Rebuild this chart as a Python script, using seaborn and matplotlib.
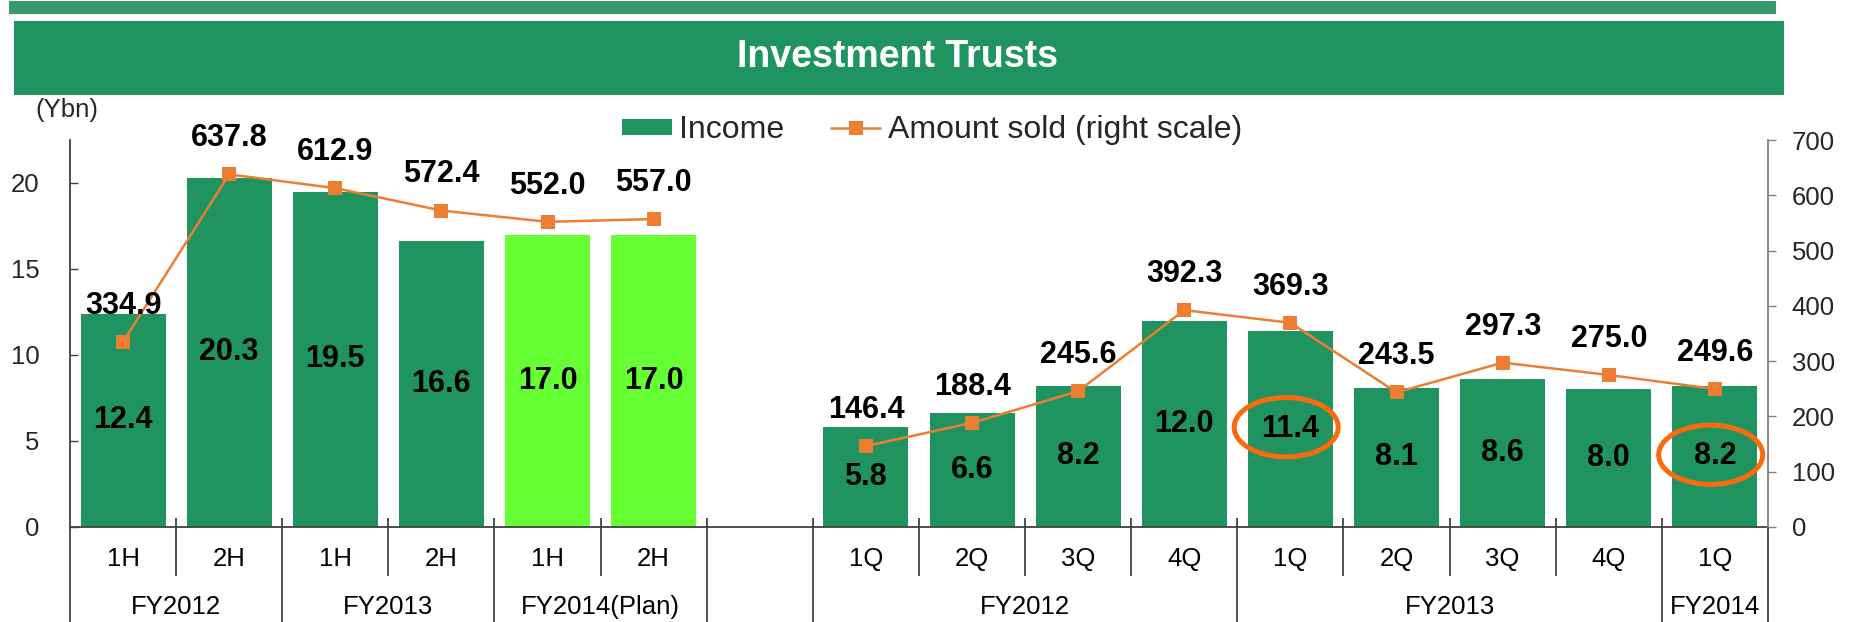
import matplotlib
matplotlib.use("Agg")
import matplotlib.pyplot as plt
import matplotlib.transforms as mtransforms
from matplotlib.patches import Rectangle, Ellipse, Patch
from matplotlib.lines import Line2D
import pandas as pd
import seaborn as sns

# ---------------- data ----------------
title = "Investment Trusts"
unit_label = "(Ybn)"
income_name = "Income"
amount_name = "Amount sold (right scale)"

half_fy = ["FY2012", "FY2012", "FY2013", "FY2013", "FY2014(Plan)", "FY2014(Plan)"]
half_period = ["1H", "2H", "1H", "2H", "1H", "2H"]
half_income = [12.4, 20.3, 19.5, 16.6, 17.0, 17.0]
half_amount = [334.9, 637.8, 612.9, 572.4, 552.0, 557.0]
half_kind = ["actual", "actual", "actual", "actual", "plan", "plan"]

qtr_fy = ["FY2012", "FY2012", "FY2012", "FY2012",
          "FY2013", "FY2013", "FY2013", "FY2013", "FY2014"]
qtr_period = ["1Q", "2Q", "3Q", "4Q", "1Q", "2Q", "3Q", "4Q", "1Q"]
qtr_income = [5.8, 6.6, 8.2, 12.0, 11.4, 8.1, 8.6, 8.0, 8.2]
qtr_amount = [146.4, 188.4, 245.6, 392.3, 369.3, 243.5, 297.3, 275.0, 249.6]
qtr_kind = ["actual"] * 9

highlighted = [("Q", "FY2013", "1Q"), ("Q", "FY2014", "1Q")]

left_ticks = [0, 5, 10, 15, 20]
right_ticks = [0, 100, 200, 300, 400, 500, 600, 700]

# ---------------- styles ----------------
DARK_GREEN = "#1F9461"
PLAN_GREEN = "#66FF33"
ORANGE = "#ED7D31"
RING = "#FA6A0F"
AXIS_COL = "#404040"
LEFT_MAX, RIGHT_MAX = 22.5, 700

sns.set_style("white")
plt.rcParams["font.family"] = ["Liberation Sans", "DejaVu Sans"]

rows = []
for fy, p, inc, amt, k in zip(half_fy, half_period, half_income, half_amount, half_kind):
    rows.append(dict(section="H", fy=fy, period=p, income=inc, amount=amt, kind=k))
for fy, p, inc, amt, k in zip(qtr_fy, qtr_period, qtr_income, qtr_amount, qtr_kind):
    rows.append(dict(section="Q", fy=fy, period=p, income=inc, amount=amt, kind=k))
df = pd.DataFrame(rows)
df["key"] = df["section"] + "|" + df["fy"] + "|" + df["period"]

order = list(df.loc[df.section == "H", "key"]) + ["gap"] + list(df.loc[df.section == "Q", "key"])
df["pos"] = [order.index(k) for k in df["key"]]

W, H = 1856, 622
fig = plt.figure(figsize=(W / 100, H / 100), dpi=100)

# banner
fig.add_artist(Rectangle((9 / W, 1 - 14 / H), (1776 - 9) / W, 13 / H,
                         transform=fig.transFigure, facecolor="#35996A", edgecolor="none"))
fig.add_artist(Rectangle((14 / W, 1 - 95 / H), (1784 - 14) / W, (95 - 21) / H,
                         transform=fig.transFigure, facecolor=DARK_GREEN, edgecolor="none"))
fig.text(898 / W, 1 - 57 / H, title, color="white", fontsize=27, fontweight="bold",
         ha="center", va="center")

ax_left, ax_bottom = 70 / W, 1 - 527 / H
ax_w, ax_h = (1768 - 70) / W, (527 - 140) / H
ax = fig.add_axes([ax_left, ax_bottom, ax_w, ax_h])

sns.barplot(data=df, x="key", y="income", hue="kind", order=order,
            hue_order=["actual", "plan"],
            palette={"actual": DARK_GREEN, "plan": PLAN_GREEN}, saturation=1,
            dodge=False, width=0.8, errorbar=None, linewidth=0, legend=False, ax=ax)
ax.set_xlim(-0.5, len(order) - 0.5)
ax.set_ylim(0, LEFT_MAX)
ax.set_yticks(left_ticks)
ax.set_xticks([])
ax.set_xlabel("")
ax.set_ylabel("")
ax.tick_params(axis="y", direction="in", length=6, width=1, color=AXIS_COL,
               labelsize=18.5, pad=22, left=True)
for s in ["top", "right"]:
    ax.spines[s].set_visible(False)
for s in ["left", "bottom"]:
    ax.spines[s].set_color(AXIS_COL)
    ax.spines[s].set_linewidth(1.3)

ax2 = ax.twinx()
dline = df.sort_values("pos")
sns.lineplot(data=dline, x="pos", y="amount", units="section", estimator=None,
             color=ORANGE, marker="s", markersize=9.5, markeredgewidth=0,
             linewidth=1.8, legend=False, ax=ax2)
ax2.set_ylim(0, RIGHT_MAX)
ax2.set_yticks(right_ticks)
ax2.set_xlim(-0.5, len(order) - 0.5)
ax2.set_xlabel("")
ax2.set_ylabel("")
ax2.tick_params(axis="y", direction="out", length=6, width=1, color="#808080",
                labelsize=18.5, pad=11, right=True)
for s in ["top", "left", "bottom"]:
    ax2.spines[s].set_visible(False)
ax2.spines["right"].set_color("#808080")
ax2.spines["right"].set_linewidth(1.3)

# value labels
for _, r in df.iterrows():
    ax.text(r.pos, r.income / 2, f"{r.income:.1f}", ha="center", va="center",
            fontsize=22, fontweight="bold", color="black", zorder=5)
    ax2.annotate(f"{r.amount:.1f}", xy=(r.pos, r.amount), xytext=(0, 26),
                 textcoords="offset points", ha="center", va="center",
                 fontsize=22, fontweight="bold", color="black", zorder=6)

# highlight rings (drawn on the right-scale axes, converted from left-scale units)
scale = RIGHT_MAX / LEFT_MAX
for sec, fy, p in highlighted:
    r = df[(df.section == sec) & (df.fy == fy) & (df.period == p)].iloc[0]
    ax2.add_patch(Ellipse((r.pos - 0.04, (r.income / 2 + 0.1) * scale), width=0.98,
                          height=3.45 * scale, fill=False, edgecolor=RING,
                          linewidth=3.6, zorder=7))

# category axis: separators and labels
trans = mtransforms.blended_transform_factory(ax.transData, ax.transAxes)
px = 1 / (527 - 140)
top_y = 9 * px
short_y = -(576 - 527) * px
long_y = -(622 - 527) * px - 0.01
groups = []
for k in order:
    if k == "gap":
        groups.append(("gap", "gap"))
    else:
        sec, fy, _ = k.split("|")
        groups.append((sec, fy))
bounds = [-0.5 + i for i in range(len(order) + 1)]
for i, b in enumerate(bounds):
    if i == 0 or i == len(order):
        yb = long_y
        yt = 0
    else:
        yb = long_y if groups[i - 1] != groups[i] else short_y
        yt = top_y
    ax.plot([b, b], [yt, yb], transform=trans, color="#333333", lw=1.2,
            clip_on=False, solid_capstyle="butt")

period_y = -(559 - 527) * px
fy_y = -(607 - 527) * px
for _, r in df.iterrows():
    ax.text(r.pos, period_y, r.period, transform=trans, ha="center", va="center",
            fontsize=18.5, color="black")
for (sec, fy), g in df.groupby(["section", "fy"], sort=False):
    ax.text(g.pos.mean(), fy_y, fy, transform=trans, ha="center", va="center",
            fontsize=18.5, color="black")

fig.text(35 / W, 1 - 110 / H, unit_label, ha="left", va="center", fontsize=18.5)

handles = [Patch(facecolor=DARK_GREEN, edgecolor="none"),
           Line2D([], [], color=ORANGE, marker="s", markersize=9.5,
                  markeredgewidth=0, lw=1.8)]
fig.legend(handles, [income_name, amount_name], loc="center left",
           bbox_to_anchor=(622 / W, 1 - 130 / H), bbox_transform=fig.transFigure,
           ncol=2, frameon=False, fontsize=23, handlelength=1.55, handleheight=0.4,
           handletextpad=0.25, columnspacing=1.45, borderpad=0, borderaxespad=0)

fig.savefig("out.png", dpi=100)
